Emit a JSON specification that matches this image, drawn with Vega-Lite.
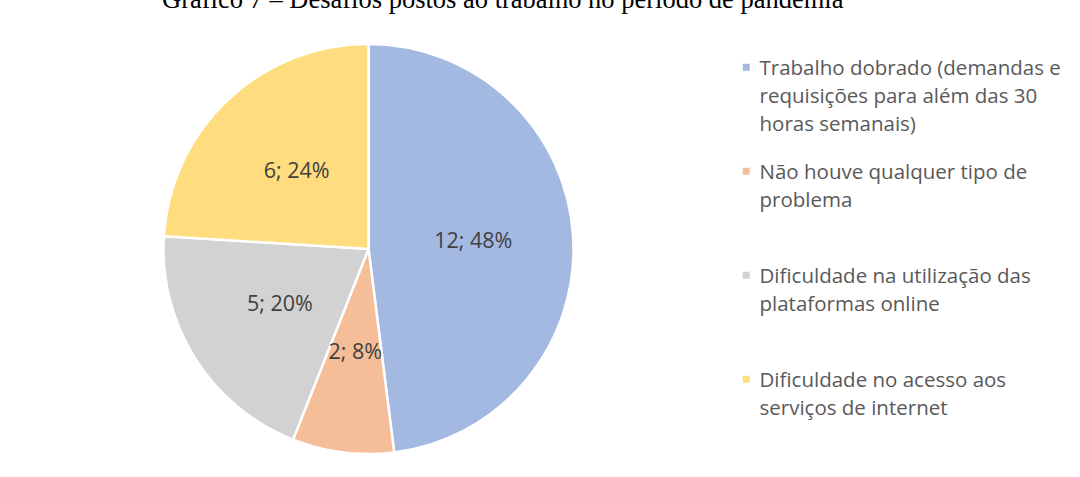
{
  "$schema": "https://vega.github.io/schema/vega-lite/v6.json",
  "autosize": {"type": "none"},
  "width": 737,
  "height": 456,
  "padding": {"left": 0, "top": 21, "right": 343, "bottom": 0},
  "background": "white",
  "title": {
    "text": "Gráfico 7 – Desafios postos ao trabalho no período de pandemia",
    "font": "Liberation Serif",
    "fontSize": 26.5,
    "fontWeight": "normal",
    "color": "#000000",
    "anchor": "start",
    "frame": "group",
    "baseline": "alphabetic",
    "offset": 0,
    "dy": 13,
    "dx": 162
  },
  "data": {
    "values": [
      {"cat": "Trabalho dobrado (demandas e|requisições para além das 30|horas semanais)", "n": 12, "ord": 1, "label": "12; 48%"},
      {"cat": "Não houve qualquer tipo de|problema|", "n": 2, "ord": 2, "label": "2; 8%"},
      {"cat": "Dificuldade na utilização das|plataformas online|", "n": 5, "ord": 3, "label": "5; 20%"},
      {"cat": "Dificuldade no acesso aos|serviços de internet|", "n": 6, "ord": 4, "label": "6; 24%"}
    ]
  },
  "encoding": {
    "theta": {"field": "n", "type": "quantitative", "stack": true},
    "order": {"field": "ord", "type": "quantitative", "sort": "ascending"}
  },
  "layer": [
    {
      "mark": {"type": "arc", "outerRadius": 205, "stroke": "white", "strokeWidth": 2.5},
      "encoding": {
        "color": {
          "field": "cat",
          "type": "nominal",
          "sort": {"field": "ord"},
          "scale": {
            "domain": [
              "Trabalho dobrado (demandas e|requisições para além das 30|horas semanais)",
              "Não houve qualquer tipo de|problema|",
              "Dificuldade na utilização das|plataformas online|",
              "Dificuldade no acesso aos|serviços de internet|"
            ],
            "range": ["#a3b9e2", "#f5be98", "#d2d2d2", "#ffdd7f"]
          },
          "legend": {
            "title": null,
            "orient": "none",
            "legendX": 736,
            "legendY": 28,
            "symbolType": "M-1,1.29H1V3.29H-1Z",
            "symbolSize": 49,
            "symbolStrokeWidth": 0,
            "labelFont": "Open Sans",
            "labelFontSize": 20.5,
            "labelColor": "#595959",
            "labelLimit": 400,
            "labelOffset": 3,
            "labelBaseline": "top",
            "rowPadding": 17,
            "labelExpr": "split(datum.label, '|')"
          }
        }
      }
    },
    {
      "mark": {"type": "text", "radius": 105, "font": "Open Sans", "fontSize": 21.5, "color": "#404040"},
      "encoding": {
        "text": {"field": "label", "type": "nominal"}
      }
    }
  ],
  "config": {
    "view": {"stroke": null},
    "style": {"guide-label": {"lineHeight": 28}}
  }
}
